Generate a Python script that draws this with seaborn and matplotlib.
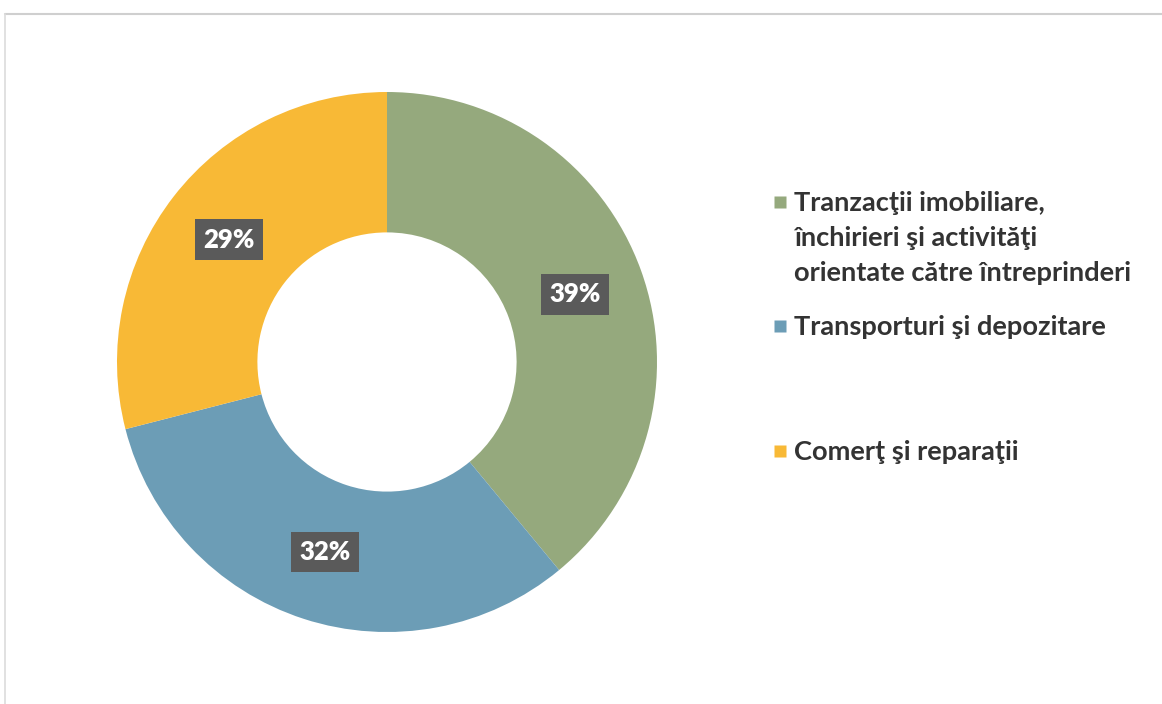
import matplotlib
matplotlib.use("Agg")
import matplotlib.pyplot as plt
import seaborn as sns
from matplotlib.lines import Line2D

categories = [
    "Tranzacţii imobiliare,\nînchirieri şi activităţi\norientate către întreprinderi",
    "Transporturi şi depozitare",
    "Comerţ şi reparaţii",
]
values = [39, 32, 29]
colors = ["#95A97D", "#6C9DB6", "#F8B936"]

sns.set_theme(style="white")
plt.rcParams["font.family"] = ["Lato", "DejaVu Sans"]

W, H = 1162, 704
fig = plt.figure(figsize=(W / 100, H / 100), dpi=100)
fig.patch.set_facecolor("white")

cx, cy, R = 387, 362, 270
ax = fig.add_axes([(cx - R) / W, (H - cy - R) / H, 2 * R / W, 2 * R / H])
wedges, texts, autotexts = ax.pie(
    values,
    colors=sns.color_palette(colors),
    startangle=90,
    counterclock=False,
    radius=1.0,
    wedgeprops=dict(width=0.52, edgecolor="none"),
    autopct=lambda p: f"{p:.0f}%",
    pctdistance=0.74,
    textprops=dict(color="white", fontsize=18.5, fontweight="heavy"),
)
for t in autotexts:
    t.set_bbox(dict(boxstyle="square,pad=0.32", facecolor="#5A5A5A", edgecolor="none"))
ax.set_xlim(-1, 1)
ax.set_ylim(-1, 1)
ax.set_aspect("equal")
ax.axis("off")

# legend entries placed individually (top y pixel of each entry)
tops = [191, 315, 440]
fs = 19.6
for w, lab, top in zip(wedges, categories, tops):
    h = Line2D([], [], marker="s", linestyle="none", markersize=8.5,
               markerfacecolor=w.get_facecolor(), markeredgecolor="none")
    leg = fig.legend(
        [h],
        [lab],
        loc="upper left",
        bbox_to_anchor=(772 / W, 1 - top / H),
        frameon=False,
        fontsize=fs,
        handlelength=0.6,
        handleheight=1.1,
        handletextpad=0.22,
        borderpad=0,
        borderaxespad=0,
    )
    for col in leg._legend_handle_box.get_children():
        for item in col.get_children():
            item.align = "top"
    for t in leg.get_texts():
        t.set_color("#333333")
        t.set_fontweight("bold")
        t.set_linespacing(1.55)

# faint frame lines
fig.add_artist(Line2D([5 / W, 1.0], [1 - 14 / H, 1 - 14 / H], color="#cfcfcf", lw=1.5, transform=fig.transFigure))
fig.add_artist(Line2D([5 / W, 5 / W], [0, 1 - 14 / H], color="#dcdcdc", lw=1.2, transform=fig.transFigure))

fig.savefig("out.png", dpi=100, facecolor="white")
